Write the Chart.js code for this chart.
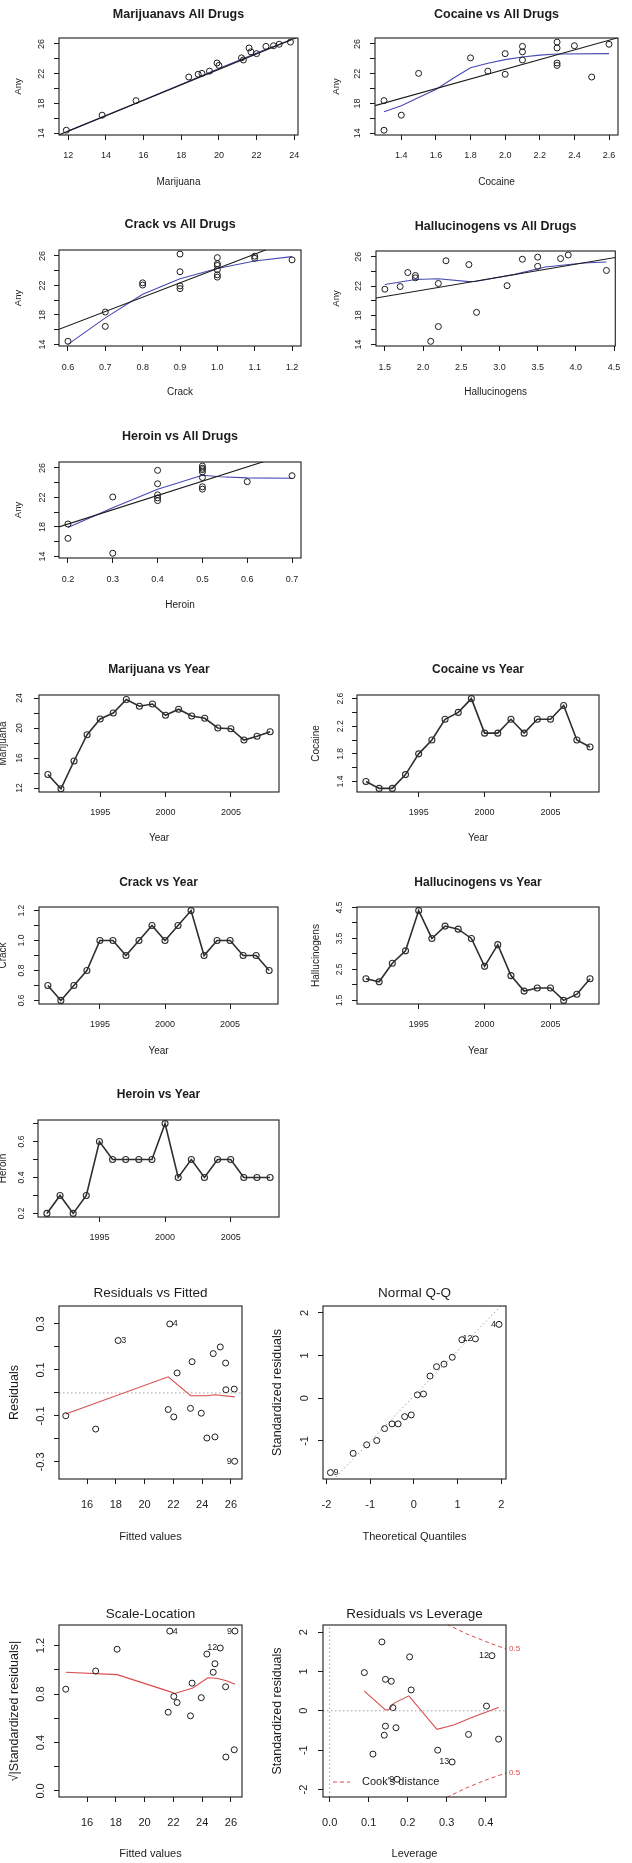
<!DOCTYPE html>
<html>
<head>
<meta charset="utf-8">
<title>Drug use 1991-2008</title>
<script src="https://cdn.jsdelivr.net/npm/chart.js@4.4.1/dist/chart.umd.min.js"></script>
<style>
  html, body { margin: 0; padding: 0; background: #fff; }
  body { width: 632px; height: 1863px; position: relative; overflow: hidden; }
  canvas { position: absolute; }
</style>
</head>
<body>
<script>
// ---------------- data ----------------
const years = [1991,1992,1993,1994,1995,1996,1997,1998,1999,2000,2001,2002,2003,2004,2005,2006,2007,2008];
const marijuana     = [13.8,11.9,15.6,19.1,21.2,22.0,23.8,22.9,23.2,21.7,22.5,21.6,21.3,20.0,19.9,18.4,18.9,19.5];
const cocaine       = [1.4,1.3,1.3,1.5,1.8,2.0,2.3,2.4,2.6,2.1,2.1,2.3,2.1,2.3,2.3,2.5,2.0,1.9];
const crack         = [0.7,0.6,0.7,0.8,1.0,1.0,0.9,1.0,1.1,1.0,1.1,1.2,0.9,1.0,1.0,0.9,0.9,0.8];
const hallucinogens = [2.2,2.1,2.7,3.1,4.4,3.5,3.9,3.8,3.5,2.6,3.3,2.3,1.8,1.9,1.9,1.5,1.7,2.2];
const heroin        = [0.2,0.3,0.2,0.3,0.6,0.5,0.5,0.5,0.5,0.7,0.4,0.5,0.4,0.5,0.5,0.4,0.4,0.4];
const anyDrug       = [16.44,14.42,18.39,22.05,24.13,24.70,26.25,25.76,25.96,24.94,25.67,25.46,23.85,23.12,23.44,21.56,21.93,22.35];

// least-squares lines (black) and lowess smooths (blue), [x, y]
const marijuanaFit    = [[11.5,13.78],[24.1,26.85]];
const marijuanaLowess = [[12.0,14.3],[15.6,18.05],[18.4,21.0],[20.0,22.7],[21.3,24.05],[22.5,25.3],[23.8,26.5]];
const cocaineFit      = [[1.248,17.72],[2.652,26.83]];
const cocaineLowess   = [[1.3,16.9],[1.4,17.7],[1.5,18.8],[1.6,19.9],[1.7,21.4],[1.8,22.8],[1.9,23.4],[2.0,23.9],[2.1,24.25],[2.2,24.5],[2.3,24.65],[2.6,24.7]];
const crackFit        = [[0.576,16.04],[1.16,27.4]];
const crackLowess     = [[0.6,14.0],[0.7,17.6],[0.8,20.8],[0.9,22.9],[1.0,24.3],[1.1,25.3],[1.2,25.9]];
const hallFit         = [[1.384,20.36],[4.516,25.9]];
const hallLowess      = [[1.5,22.2],[1.9,22.9],[2.2,23.0],[2.6,22.6],[2.7,22.65],[3.2,23.6],[3.6,24.6],[4.1,25.15],[4.4,25.3]];
const heroinFit       = [[0.18,18.0],[0.66,27.3]];
const heroinLowess    = [[0.2,17.9],[0.3,20.6],[0.4,23.1],[0.5,25.0],[0.54,24.8],[0.6,24.65],[0.7,24.6]];

// regression diagnostics
const rvfFitted = [14.52,16.60,18.16,21.75,21.64,22.03,22.26,23.19,23.30,23.94,24.33,24.89,24.77,25.26,25.63,25.65,26.23,26.26];
const rvfResid  = [-0.099,-0.157,0.228,0.300,-0.072,-0.104,0.087,-0.067,0.136,-0.088,-0.196,-0.191,0.171,0.200,0.130,0.014,0.017,-0.297];
const rvfIds    = ['','','3','4','','','','','','','','','','','','','','9'];
const rvfSmooth = [[14.52,-0.091],[21.64,0.070],[23.2,-0.012],[24.3,-0.012],[24.9,-0.008],[26.26,-0.017]];

const qqTheo = [-1.91,-1.39,-1.08,-0.85,-0.67,-0.50,-0.36,-0.21,-0.06,0.08,0.22,0.37,0.52,0.69,0.88,1.10,1.41,1.95];
const qqStd  = [-1.74,-1.29,-1.09,-0.99,-0.71,-0.60,-0.60,-0.43,-0.39,0.08,0.10,0.52,0.74,0.80,0.96,1.37,1.39,1.73];
const qqIds  = ['9','','','','','','','','','','','','','','','','12','4'];
const qqRef  = [[-1.85,-1.91],[2.02,2.19]];

const slFitted = [14.52,16.60,18.09,21.75,21.64,22.03,22.26,23.19,23.30,23.94,24.33,24.77,24.89,25.26,25.63,25.65,26.23,26.28];
const slValue  = [0.84,0.99,1.17,1.32,0.65,0.78,0.73,0.62,0.89,0.77,1.13,0.98,1.05,1.18,0.86,0.28,0.34,1.32];
const slIds    = ['','','','4','','','','','','','','','','12','','','','9'];
const slSmooth = [[14.52,0.98],[18.1,0.96],[21.75,0.82],[22.1,0.805],[23.35,0.85],[24.4,0.935],[25.0,0.93],[25.7,0.91],[26.28,0.88]];

const levH    = [0.089,0.111,0.134,0.143,0.143,0.140,0.158,0.162,0.173,0.170,0.205,0.209,0.277,0.314,0.356,0.402,0.416,0.433];
const levStd  = [0.97,-1.10,1.75,0.80,-0.39,-0.62,0.75,0.08,-1.74,-0.43,1.37,0.53,-1.00,-1.30,-0.60,0.12,1.40,-0.72];
const levIds  = ['','','','','','','','','9','','','','','13','','','12',''];
const levSmooth = [[0.089,0.50],[0.143,0.02],[0.152,0.03],[0.164,0.19],[0.203,0.38],[0.275,-0.47],[0.318,-0.36],[0.369,-0.15],[0.433,0.085]];
const cookUpper = [[0.30,2.20],[0.35,1.96],[0.40,1.76],[0.452,1.57]];
const cookLower = [[0.30,-2.20],[0.35,-1.96],[0.40,-1.76],[0.452,-1.58]];
const cookLevels = ['0.5'];

// tick values and their printed labels
const anyTickVals = [14,16,18,20,22,24,26];
const anyTickLabels = ['14','','18','','22','','26'];
const marijuanaTickVals = [12,14,16,18,20,22,24];
const marijuanaTickLabels = ['12','14','16','18','20','22','24'];
const cocaineTickVals = [1.4,1.6,1.8,2.0,2.2,2.4,2.6];
const cocaineTickLabels = ['1.4','1.6','1.8','2.0','2.2','2.4','2.6'];
const crackTickVals = [0.6,0.7,0.8,0.9,1.0,1.1,1.2];
const crackTickLabels = ['0.6','0.7','0.8','0.9','1.0','1.1','1.2'];
const hallTickVals = [1.5,2.0,2.5,3.0,3.5,4.0,4.5];
const hallTickLabels = ['1.5','2.0','2.5','3.0','3.5','4.0','4.5'];
const heroinTickVals = [0.2,0.3,0.4,0.5,0.6,0.7];
const heroinTickLabels = ['0.2','0.3','0.4','0.5','0.6','0.7'];
const yearTickVals = [1995,2000,2005];
const yearTickLabels = ['1995','2000','2005'];
const marijuanaYearLabels = ['12','','16','','20','','24'];
const cocaineYearLabels = ['1.4','','1.8','','2.2','','2.6'];
const crackYearLabels = ['0.6','','0.8','','1.0','','1.2'];
const hallYearLabels = ['1.5','','2.5','','3.5','','4.5'];
const heroinYearLabels = ['0.2','','0.4','','0.6',''];
const fittedTickVals = [16,18,20,22,24,26];
const fittedTickLabels = ['16','18','20','22','24','26'];
const residTickVals = [-0.3,-0.2,-0.1,0,0.1,0.2,0.3];
const residTickLabels = ['-0.3','','-0.1','','0.1','','0.3'];
const qqXTickVals = [-2,-1,0,1,2];
const qqXTickLabels = ['-2','-1','0','1','2'];
const qqYTickVals = [-1,0,1,2];
const qqYTickLabels = ['-1','0','1','2'];
const slTickVals = [0,0.2,0.4,0.6,0.8,1.0,1.2];
const slTickLabels = ['0.0','','0.4','','0.8','','1.2'];
const levXTickVals = [0,0.1,0.2,0.3,0.4];
const levXTickLabels = ['0.0','0.1','0.2','0.3','0.4'];
const levYTickVals = [-2,-1,0,1,2];
const levYTickLabels = ['-2','-1','0','1','2'];

// ---------------- drawing ----------------
const FONT = "'Liberation Sans', Arial, Helvetica, sans-serif";
const INK = '#1c1c1c';
const BLUE = '#4848b4';
const RED = '#d84c4c';
const GREY = '#a0a0a0';
Chart.defaults.font.family = FONT;
Chart.defaults.color = INK;

const measureCtx = document.createElement('canvas').getContext('2d');
function textWidth(str, size) {
  measureCtx.font = size + 'px ' + FONT;
  return measureCtx.measureText(str).width;
}
const pts = (xs, ys) => xs.map((v, i) => ({ x: v, y: ys[i] }));
const pairs = arr => arr.map(p => ({ x: p[0], y: p[1] }));

// box round the plotting region
const framePlugin = {
  id: 'frame',
  afterDatasetsDraw(chart) {
    const { ctx, chartArea: a } = chart;
    ctx.save();
    ctx.strokeStyle = INK;
    ctx.lineWidth = 1.1;
    ctx.strokeRect(a.left, a.top, a.right - a.left, a.bottom - a.top);
    ctx.restore();
  }
};

// observation numbers beside flagged points
const idPlugin = {
  id: 'obsIds',
  afterDatasetsDraw(chart, args, opts) {
    if (!opts.items || !opts.items.length) return;
    const { ctx, scales: { x, y } } = chart;
    ctx.save();
    ctx.font = opts.size + 'px ' + FONT;
    ctx.fillStyle = INK;
    ctx.textBaseline = 'middle';
    opts.items.forEach(it => {
      const px = x.getPixelForValue(it.x), py = y.getPixelForValue(it.y);
      const left = opts.sides[it.text] === 'left';
      ctx.textAlign = left ? 'right' : 'left';
      ctx.fillText(it.text, px + (left ? -opts.gap : opts.gap), py);
    });
    ctx.restore();
  }
};
function idItems(xs, ys, ids) {
  const out = [];
  ids.forEach((t, i) => { if (t) out.push({ x: xs[i], y: ys[i], text: t }); });
  return out;
}

// Cook's distance legend and contour levels
const cookPlugin = {
  id: 'cookNotes',
  afterDatasetsDraw(chart, args, opts) {
    if (!opts.label) return;
    const { ctx, chartArea: a, scales: { y } } = chart;
    ctx.save();
    const ly = a.bottom - 15;
    ctx.strokeStyle = RED;
    ctx.lineWidth = 1;
    ctx.setLineDash([4, 3]);
    ctx.beginPath(); ctx.moveTo(a.left + 10, ly); ctx.lineTo(a.left + 27, ly); ctx.stroke();
    ctx.setLineDash([]);
    ctx.font = '11px ' + FONT;
    ctx.fillStyle = INK;
    ctx.textAlign = 'left';
    ctx.textBaseline = 'middle';
    ctx.fillText(opts.label, a.left + 39, ly);
    ctx.font = '8px ' + FONT;
    ctx.fillStyle = RED;
    opts.levels.forEach(l => ctx.fillText(l.text, a.right + 3, y.getPixelForValue(l.y)));
    ctx.restore();
  }
};

const S_SCAT = { titleSize: 12.5, titleWeight: 'bold', xLabSize: 10, yLabSize: 9.5, xTickSize: 9, yTickSize: 9, tickLen: 5 };
const S_YEAR = { titleSize: 12, titleWeight: 'bold', xLabSize: 10, yLabSize: 10, xTickSize: 9, yTickSize: 8.5, tickLen: 5 };
const S_DIAG = { titleSize: 13.5, titleWeight: 'normal', xLabSize: 11, yLabSize: 12.5, xTickSize: 11, yTickSize: 11, tickLen: 5 };

function makePanel(p) {
  const st = p.style;
  const lhT = st.titleSize * 1.2, lhX = st.xLabSize * 1.2, lhY = st.yLabSize * 1.2;
  // the canvas must start left of the y-axis title so the layout padding stays positive
  const cx = p.col === 0 ? -20 : Math.min(296, Math.floor(p.yTitleX - lhY / 2 - 6));
  const cw = p.col === 0 ? 336 : 632 - cx;
  const cy = p.titleY - 20;
  const ch = (p.xTitle ? p.xTitleY : p.xTickY) + 20 - cy;
  const cv = document.createElement('canvas');
  cv.width = cw; cv.height = ch;
  cv.style.left = cx + 'px'; cv.style.top = cy + 'px';
  document.body.appendChild(cv);

  const L = p.box.l - cx, T = p.box.t - cy, R = p.box.r - cx, B = p.box.b - cy;
  const tY = p.titleY - cy;
  const xh = p.xTitle ? (p.xTitleY - cy) + lhX / 2 - B : (p.xTickY - cy) + 10 - B;
  const yl = (p.yTitleX - cx) - lhY / 2;
  const yw = L - yl;
  const xTickPad = (p.xTickY - cy) - B - st.tickLen - st.xTickSize * 0.6;
  const widest = Math.max(...p.y.labels.map(s => textWidth(s, st.yTickSize)));
  const yTickPad = L - st.tickLen - (p.yTickX - cx) - widest / 2;

  const gridOpts = { display: true, drawOnChartArea: false, drawTicks: true, tickLength: st.tickLen, color: INK, lineWidth: 1 };

  return new Chart(cv, {
    type: 'scatter',
    data: { datasets: p.datasets },
    plugins: [framePlugin, idPlugin, cookPlugin],
    options: {
      responsive: false,
      animation: false,
      events: [],
      devicePixelRatio: 1,
      layout: { padding: { left: yl, right: cw - R, top: 0, bottom: ch - B - xh } },
      plugins: {
        legend: { display: false },
        tooltip: { enabled: false },
        title: {
          display: true, text: p.title, fullSize: false, color: INK,
          font: { size: st.titleSize, weight: st.titleWeight, family: FONT },
          padding: { top: tY - lhT / 2, bottom: T - tY - lhT / 2 }
        },
        obsIds: p.ids || {},
        cookNotes: p.cook || {}
      },
      scales: {
        x: {
          type: 'linear', position: 'bottom', min: p.x.min, max: p.x.max,
          afterBuildTicks: s => { s.ticks = p.x.vals.map(v => ({ value: v })); },
          afterFit: s => { s.height = xh; },
          ticks: {
            autoSkip: false, minRotation: 0, maxRotation: 0, padding: xTickPad, color: INK,
            font: { size: st.xTickSize, family: FONT },
            callback: (v, i) => p.x.labels[i]
          },
          grid: gridOpts,
          border: { display: false },
          title: { display: !!p.xTitle, text: p.xTitle || '', padding: 0, color: INK, font: { size: st.xLabSize, family: FONT } }
        },
        y: {
          type: 'linear', position: 'left', min: p.y.min, max: p.y.max,
          afterBuildTicks: s => { s.ticks = p.y.vals.map(v => ({ value: v })); },
          afterFit: s => { s.width = yw; },
          ticks: {
            autoSkip: false, minRotation: 90, maxRotation: 90, crossAlign: 'center', padding: yTickPad, color: INK,
            font: { size: st.yTickSize, family: FONT },
            callback: (v, i) => p.y.labels[i]
          },
          grid: gridOpts,
          border: { display: false },
          title: { display: true, text: p.yTitle, padding: 0, color: INK, font: { size: st.yLabSize, family: FONT } }
        }
      }
    }
  });
}

// dataset builders
function circles(data) {
  return { data, showLine: false, pointStyle: 'circle', pointRadius: 3, pointBorderWidth: 1,
           pointBorderColor: INK, pointBackgroundColor: 'rgba(0,0,0,0)' };
}
function line(data, color, width, dash) {
  return { data, showLine: true, pointRadius: 0, borderColor: color, borderWidth: width, borderDash: dash || [] };
}
function yearSeries(vals) {
  return { data: pts(years, vals), showLine: true, borderColor: '#2e2e2e', borderWidth: 1.6,
           pointStyle: 'circle', pointRadius: 3, pointBorderWidth: 1.1, pointBorderColor: '#2e2e2e',
           pointBackgroundColor: 'rgba(0,0,0,0)' };
}
const anyAxis = { min: 13.78, max: 26.8, vals: anyTickVals, labels: anyTickLabels };
const yearAxis = { min: 1990.32, max: 2008.68, vals: yearTickVals, labels: yearTickLabels };

// ----- Any drug use against each drug -----
makePanel({ col: 0, style: S_SCAT, title: 'Marijuanavs All Drugs', titleY: 15,
  box: { l: 59, t: 38, r: 298, b: 135 }, xTickY: 156, xTitleY: 182, yTitleX: 18, yTickX: 41.7,
  xTitle: 'Marijuana', yTitle: 'Any',
  x: { min: 11.51, max: 24.2, vals: marijuanaTickVals, labels: marijuanaTickLabels }, y: anyAxis,
  datasets: [circles(pts(marijuana, anyDrug)), line(pairs(marijuanaFit), INK, 1.1), line(pairs(marijuanaLowess), BLUE, 1.1)] });

makePanel({ col: 1, style: S_SCAT, title: 'Cocaine vs All Drugs', titleY: 15,
  box: { l: 375, t: 38, r: 618, b: 135 }, xTickY: 156, xTitleY: 182, yTitleX: 336.5, yTickX: 357.7,
  xTitle: 'Cocaine', yTitle: 'Any',
  x: { min: 1.248, max: 2.652, vals: cocaineTickVals, labels: cocaineTickLabels }, y: anyAxis,
  datasets: [circles(pts(cocaine, anyDrug)), line(pairs(cocaineFit), INK, 1.1), line(pairs(cocaineLowess), BLUE, 1.1)] });

makePanel({ col: 0, style: S_SCAT, title: 'Crack vs All Drugs', titleY: 225,
  box: { l: 59, t: 250, r: 301, b: 346 }, xTickY: 368, xTitleY: 392, yTitleX: 18.3, yTickX: 42.7,
  xTitle: 'Crack', yTitle: 'Any',
  x: { min: 0.576, max: 1.224, vals: crackTickVals, labels: crackTickLabels }, y: anyAxis,
  datasets: [circles(pts(crack, anyDrug)), line(pairs(crackFit), INK, 1.1), line(pairs(crackLowess), BLUE, 1.1)] });

makePanel({ col: 1, style: S_SCAT, title: 'Hallucinogens vs All Drugs', titleY: 227,
  box: { l: 376, t: 251, r: 618, b: 346 }, xTickY: 368, xTitleY: 392, yTitleX: 336.7, yTickX: 359,
  xTitle: 'Hallucinogens', yTitle: 'Any',
  x: { min: 1.384, max: 4.516, vals: hallTickVals, labels: hallTickLabels }, y: anyAxis,
  datasets: [circles(pts(hallucinogens, anyDrug)), line(pairs(hallFit), INK, 1.1), line(pairs(hallLowess), BLUE, 1.1)] });

makePanel({ col: 0, style: S_SCAT, title: 'Heroin vs All Drugs', titleY: 437,
  box: { l: 59, t: 462, r: 301, b: 558 }, xTickY: 580, xTitleY: 605, yTitleX: 18.3, yTickX: 42.7,
  xTitle: 'Heroin', yTitle: 'Any',
  x: { min: 0.18, max: 0.72, vals: heroinTickVals, labels: heroinTickLabels }, y: anyAxis,
  datasets: [circles(pts(heroin, anyDrug)), line(pairs(heroinFit), INK, 1.1), line(pairs(heroinLowess), BLUE, 1.1)] });

// ----- each drug over time -----
makePanel({ col: 0, style: S_YEAR, title: 'Marijuana vs Year', titleY: 670,
  box: { l: 39, t: 695, r: 279, b: 792 }, xTickY: 813, xTitleY: 838, yTitleX: 3, yTickX: 20,
  xTitle: 'Year', yTitle: 'Marijuana', x: yearAxis,
  y: { min: 11.47, max: 24.4, vals: marijuanaTickVals, labels: marijuanaYearLabels },
  datasets: [yearSeries(marijuana)] });

makePanel({ col: 1, style: S_YEAR, title: 'Cocaine vs Year', titleY: 670,
  box: { l: 357, t: 695, r: 599, b: 792 }, xTickY: 813, xTitleY: 838, yTitleX: 316, yTickX: 340.3,
  xTitle: 'Year', yTitle: 'Cocaine', x: yearAxis,
  y: { min: 1.248, max: 2.652, vals: cocaineTickVals, labels: cocaineYearLabels },
  datasets: [yearSeries(cocaine)] });

makePanel({ col: 0, style: S_YEAR, title: 'Crack vs Year', titleY: 883,
  box: { l: 39, t: 907, r: 278, b: 1004 }, xTickY: 1025, xTitleY: 1051, yTitleX: 3, yTickX: 21.7,
  xTitle: 'Year', yTitle: 'Crack', x: yearAxis,
  y: { min: 0.576, max: 1.224, vals: crackTickVals, labels: crackYearLabels },
  datasets: [yearSeries(crack)] });

makePanel({ col: 1, style: S_YEAR, title: 'Hallucinogens vs Year', titleY: 883,
  box: { l: 357, t: 907, r: 599, b: 1004 }, xTickY: 1025, xTitleY: 1051, yTitleX: 316, yTickX: 340,
  xTitle: 'Year', yTitle: 'Hallucinogens', x: yearAxis,
  y: { min: 1.384, max: 4.516, vals: hallTickVals, labels: hallYearLabels },
  datasets: [yearSeries(hallucinogens)] });

makePanel({ col: 0, style: S_YEAR, title: 'Heroin vs Year', titleY: 1095,
  box: { l: 38, t: 1120, r: 279, b: 1217 }, xTickY: 1238, yTitleX: 3, yTickX: 21.7,
  yTitle: 'Heroin', x: yearAxis,
  y: { min: 0.18, max: 0.72, vals: heroinTickVals, labels: heroinYearLabels },
  datasets: [yearSeries(heroin)] });

// ----- diagnostics of the regression of Any on the four drugs -----
makePanel({ col: 0, style: S_DIAG, title: 'Residuals vs Fitted', titleY: 1293,
  box: { l: 59, t: 1306, r: 242, b: 1479 }, xTickY: 1505, xTitleY: 1537, yTitleX: 15, yTickX: 41,
  xTitle: 'Fitted values', yTitle: 'Residuals',
  x: { min: 14.05, max: 26.77, vals: fittedTickVals, labels: fittedTickLabels },
  y: { min: -0.374, max: 0.378, vals: residTickVals, labels: residTickLabels },
  ids: { items: idItems(rvfFitted, rvfResid, rvfIds), sides: { '3': 'right', '4': 'right', '9': 'left' }, size: 9, gap: 3 },
  datasets: [line(pairs([[14.05, 0], [26.77, 0]]), GREY, 1, [1.5, 2.5]),
             circles(pts(rvfFitted, rvfResid)), line(pairs(rvfSmooth), RED, 1.1)] });

makePanel({ col: 1, style: S_DIAG, title: 'Normal Q-Q', titleY: 1293,
  box: { l: 323, t: 1306, r: 506, b: 1479 }, xTickY: 1505, xTitleY: 1537, yTitleX: 278, yTickX: 305,
  xTitle: 'Theoretical Quantiles', yTitle: 'Standardized residuals',
  x: { min: -2.08, max: 2.11, vals: qqXTickVals, labels: qqXTickLabels },
  y: { min: -1.89, max: 2.16, vals: qqYTickVals, labels: qqYTickLabels },
  ids: { items: idItems(qqTheo, qqStd, qqIds), sides: { '9': 'right', '12': 'left', '4': 'left' }, size: 9, gap: 3 },
  datasets: [line(pairs(qqRef), GREY, 1, [1.5, 2.5]), circles(pts(qqTheo, qqStd))] });

makePanel({ col: 0, style: S_DIAG, title: 'Scale-Location', titleY: 1614,
  box: { l: 59, t: 1625, r: 242, b: 1797 }, xTickY: 1823, xTitleY: 1854, yTitleX: 15, yTickX: 41,
  xTitle: 'Fitted values', yTitle: '\u221A|Standardized residuals|',
  x: { min: 14.05, max: 26.77, vals: fittedTickVals, labels: fittedTickLabels },
  y: { min: -0.05, max: 1.37, vals: slTickVals, labels: slTickLabels },
  ids: { items: idItems(slFitted, slValue, slIds), sides: { '4': 'right', '12': 'left', '9': 'left' }, size: 9, gap: 3 },
  datasets: [circles(pts(slFitted, slValue)), line(pairs(slSmooth), RED, 1.1)] });

makePanel({ col: 1, style: S_DIAG, title: 'Residuals vs Leverage', titleY: 1614,
  box: { l: 323, t: 1625, r: 506, b: 1797 }, xTickY: 1823, xTitleY: 1854, yTitleX: 278, yTickX: 304,
  xTitle: 'Leverage', yTitle: 'Standardized residuals',
  x: { min: -0.017, max: 0.452, vals: levXTickVals, labels: levXTickLabels },
  y: { min: -2.19, max: 2.18, vals: levYTickVals, labels: levYTickLabels },
  ids: { items: idItems(levH, levStd, levIds), sides: { '9': 'left', '13': 'left', '12': 'left' }, size: 9, gap: 3 },
  cook: { label: "Cook's distance",
          levels: [{ text: cookLevels[0], y: cookUpper[cookUpper.length - 1][1] },
                   { text: cookLevels[0], y: cookLower[cookLower.length - 1][1] }] },
  datasets: [line(pairs([[-0.017, 0], [0.452, 0]]), GREY, 1, [1.5, 2.5]),
             line(pairs([[0, -2.19], [0, 2.18]]), GREY, 1, [1.5, 2.5]),
             circles(pts(levH, levStd)), line(pairs(levSmooth), RED, 1.1),
             Object.assign(line(pairs(cookUpper), RED, 1, [4, 3]), { label: "Cook's distance" }),
             Object.assign(line(pairs(cookLower), RED, 1, [4, 3]), { label: "Cook's distance" })] });
</script>
</body>
</html>
